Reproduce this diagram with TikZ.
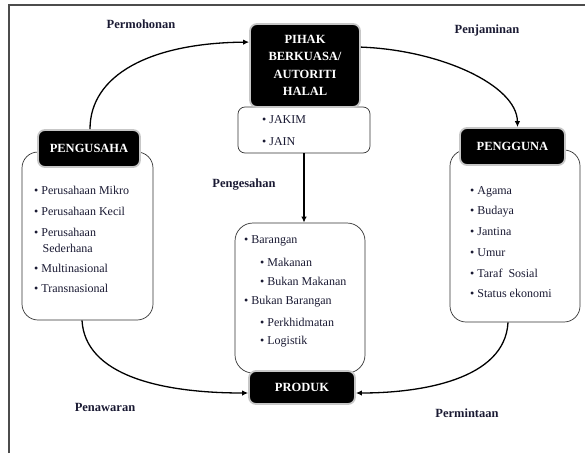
\documentclass[tikz,border=0pt]{standalone}
\usepackage{fontspec}
\setmainfont{Liberation Serif}
\usetikzlibrary{arrows.meta,calc}
\definecolor{ink}{HTML}{1A1A33}
\begin{document}
\begin{tikzpicture}[x=1pt,y=-1pt,
  blackbox/.style={fill=black, draw=black!22, line width=1.8pt, rounded corners=7pt, text=white,
    font=\fontsize{12.5}{17.3}\selectfont\bfseries, align=center, inner sep=0pt},
  whitebox/.style={draw=black!80, line width=0.7pt, fill=white, rounded corners=16pt, inner sep=0pt},
  item/.style={anchor=west, inner sep=0pt, font=\fontsize{12}{14}\selectfont, text=ink},
  lbl/.style={inner sep=0pt, font=\fontsize{12.5}{15}\selectfont\bfseries, text=ink},
  conn/.style={-{Latex[length=6pt,width=5.5pt]}, line width=1.3pt}
]
\useasboundingbox (0,0) rectangle (585,453);
\draw[line width=1.2pt, black!70] (9,453) -- (9,5) -- (585,5);

% central column
\node[whitebox, rounded corners=7pt, minimum width=132pt, minimum height=46pt] (jakim) at (304,130) {};
\node[blackbox, minimum width=110pt, minimum height=83pt] (pihak) at (305,65.5) {PIHAK\\BERKUASA/\\AUTORITI\\HALAL};
\node[item] (j1) at (262,120) {• JAKIM};
\node[item] (j2) at (262,142) {• JAIN};

\node[whitebox, rounded corners=18pt, minimum width=130pt, minimum height=150pt] (barang) at (300,298) {};
\node[blackbox, minimum width=106pt, minimum height=33pt] (produk) at (302,387.5) {PRODUK};
\node[item] (b1) at (244,241) {• Barangan};
\node[item] (b2) at (260,262) {• Makanan};
\node[item] (b3) at (260,281) {• Bukan Makanan};
\node[item] (b4) at (244,302) {• Bukan Barangan};
\node[item] (b5) at (260,322) {• Perkhidmatan};
\node[item] (b6) at (260,342) {• Logistik};

% left
\node[whitebox, minimum width=131pt, minimum height=168pt] (usahabox) at (87.5,236) {};
\node[blackbox, minimum width=102pt, minimum height=37pt] (usaha) at (89,148.5) {PENGUSAHA};
\node[item] (u1) at (34,190) {• Perusahaan Mikro};
\node[item] (u2) at (34,211) {• Perusahaan Kecil};
\node[item] (u3) at (34,232) {• Perusahaan};
\node[item] (u3b) at (42.5,248) {Sederhana};
\node[item] (u4) at (34,268) {• Multinasional};
\node[item] (u5) at (34,288) {• Transnasional};

% right
\node[whitebox, minimum width=130pt, minimum height=172pt] (ggunabox) at (515,236) {};
\node[blackbox, minimum width=105pt, minimum height=37pt] (gguna) at (512.5,146.5) {PENGGUNA};
\node[item] (g1) at (470,192) {• Agama};
\node[item] (g2) at (470,212) {• Budaya};
\node[item] (g3) at (470,232) {• Jantina};
\node[item] (g4) at (470,253) {• Umur};
\node[item] (g5) at (470,273) {• Taraf\ \ Sosial};
\node[item] (g6) at (470,293) {• Status ekonomi};

% labels
\node[lbl] (lperm) at (141,24) {Permohonan};
\node[lbl] (lpenj) at (487,30) {Penjaminan};
\node[lbl] (lpeng) at (244,185) {Pengesahan};
\node[lbl] (lpenw) at (105,407) {Penawaran};
\node[lbl] (lpmin) at (467,413) {Permintaan};

% connectors
\draw[conn] ([xshift=1pt]usaha.north) .. controls (90,75) and (150,43) .. ([yshift=-19pt]pihak.north west);
\draw[conn] ([yshift=-24pt]pihak.north east) .. controls (440,50) and (517,85) .. ([xshift=5pt]gguna.north);
\draw[conn] (jakim.south) -- (jakim.south |- barang.north);
\draw[conn] ([xshift=-5.5pt]usahabox.south) .. controls (85,375) and (160,393) .. ([yshift=-5.5pt]produk.west);
\draw[conn] ([xshift=-7pt]ggunabox.south) .. controls (505,380) and (420,393) .. ([yshift=-5.5pt]produk.east);
\end{tikzpicture}
\end{document}
